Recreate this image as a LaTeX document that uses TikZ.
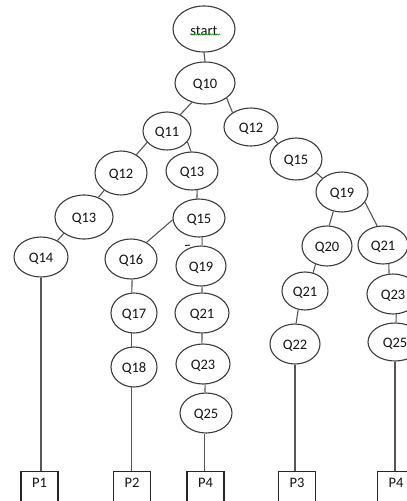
\documentclass[tikz,border=0pt]{standalone}
\usepackage{fontspec}
\setmainfont{Carlito}
\usetikzlibrary{shapes.geometric,decorations.pathmorphing}
\definecolor{edgec}{HTML}{3C3C3C}
\definecolor{linec}{HTML}{555555}
\definecolor{txtc}{HTML}{141414}
\tikzset{
  qnode/.style={ellipse, draw=edgec, line width=1.1pt, inner sep=0pt, text=txtc, font=\fontsize{14.5}{16}\selectfont},
  qtext/.style={text=txtc, font=\fontsize{14.5}{16}\selectfont, inner sep=0pt},
  pbox/.style={rectangle, draw=black!85, line width=1.1pt, anchor=north, minimum width=37pt, minimum height=60pt, inner sep=0pt},
  ptext/.style={anchor=center, text=txtc, font=\fontsize{14.5}{16}\selectfont},
  conn/.style={draw=linec, line width=1.1pt}
}
\newcommand{\qn}[6]{\node[qnode, minimum width=#4pt, minimum height=#5pt] (#1) at (#2,#3) {}; \node[qtext] (#1t) at ([yshift=-1.5pt]#1.center) {#6};}
\newcommand{\pb}[3]{\node[pbox, label={[ptext, yshift=-11.5pt]north:#3}] (#1) at (#2,471) {};}
\begin{document}
\begin{tikzpicture}[x=1pt,y=-1pt]
\useasboundingbox (0,0) rectangle (407,501);
\clip (0,0) rectangle (407,501);
\fill[white] (0,0) rectangle (407,501);
% ellipses
\qn{start}{204}{29}{62}{46}{start}
\qn{q10}{205}{83}{60}{42}{Q10}
\qn{q11}{167}{131}{48}{38}{Q11}
\qn{q12r}{251}{127}{54}{38}{Q12}
\qn{q15r}{296}{159}{52}{42}{Q15}
\qn{q12l}{121}{173}{52}{44}{Q12}
\qn{q13m}{192}{171}{52}{38}{Q13}
\qn{q13l}{84}{217}{58}{44}{Q13}
\qn{q14}{41}{257}{54}{40}{Q14}
\qn{q15m}{199}{218}{52}{38}{Q15}
\qn{q16}{131}{259}{52}{40}{Q16}
\qn{q19m}{201}{266}{50}{40}{Q19}
\qn{q17}{134}{313}{46}{40}{Q17}
\qn{q21m}{202}{313}{54}{40}{Q21}
\qn{q19r}{342}{192}{52}{40}{Q19}
\qn{q20}{327}{246}{50}{40}{Q20}
\qn{q21r}{383}{245}{50}{38}{Q21}
\qn{q21b}{305}{291}{46}{38}{Q21}
\qn{q23r}{393}{294}{52}{40}{Q23}
\qn{q18}{134}{367}{46}{40}{Q18}
\qn{q23m}{203}{364}{54}{40}{Q23}
\qn{q25m}{206}{413}{52}{40}{Q25}
\qn{q22}{295}{344}{50}{40}{Q22}
\qn{q25r}{395}{342}{54}{38}{Q25}
% boxes
\pb{p1}{39.5}{P1}
\pb{p2}{132}{P2}
\pb{p4a}{205.5}{P4}
\pb{p3}{297}{P3}
\pb{p4b}{396}{P4}
% spell-check squiggle under "start"
\coordinate (sqa) at (190,34.5);
\coordinate (sqb) at (220,34.5);
\draw[green!60!black, line width=0.5pt, decorate, decoration={snake, amplitude=0.7pt, segment length=2.2pt}] (sqa) -- (sqb);
% stray mark near Q19
\coordinate (sma) at (185,245.5);
\coordinate (smb) at (190,245);
\draw[black, line width=0.9pt] (sma) -- (smb);
% connectors
\draw[conn] (start.south) -- (q10.north);
\draw[conn] (q10.236) -- (q11.51);
\draw[conn] (q10.325) -- (q12r.142);
\draw[conn] (q11.210) -- (q12l.50);
\draw[conn] (q11.332) -- (q13m.93);
\draw[conn] (q12r.334) -- (q15r.140);
\draw[conn] (q15r.326) -- (q19r.145);
\draw[conn] (q12l.226) -- (q13l.54);
\draw[conn] (q13l.219) -- (q14.45);
\draw[conn] (q13m.285) -- (q15m.96);
\draw[conn] (q15m.184) -- (q16.47);
\draw[conn] (q15m.279) -- (q19m.87);
\draw[conn] (q16.273) -- (q17.96);
\draw[conn] (q17.264) -- (q18.96);
\draw[conn] (q18.264) -- (q18.264 |- p2.north);
\draw[conn] (q19m.273) -- (q21m.90);
\draw[conn] (q21m.270) -- (q23m.93);
\draw[conn] (q23m.276) -- (q25m.93);
\draw[conn] (q25m.267) -- (q25m.267 |- p4a.north);
\draw[conn] (q14.south) -- (q14.south |- p1.north);
\draw[conn] (q19r.246) -- (q20.84);
\draw[conn] (q19r.336) -- (q21r.107);
\draw[conn] (q20.238) -- (q21b.66);
\draw[conn] (q21b.250) -- (q22.87);
\draw[conn] (q22.270) -- (q22.270 |- p3.north);
\draw[conn] (q21r.287) -- (q23r.101);
\draw[conn] (q23r.279) -- (q25r.87);
\draw[conn] (q25r.270) -- (q25r.270 |- p4b.north);
\end{tikzpicture}
\end{document}
